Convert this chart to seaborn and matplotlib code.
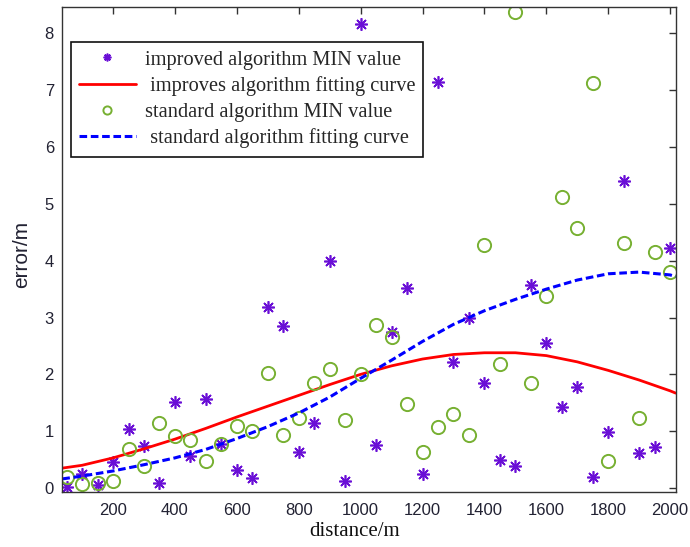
import matplotlib
matplotlib.use("Agg")
import matplotlib.pyplot as plt
import seaborn as sns
import pandas as pd
from matplotlib.markers import MarkerStyle

# ---------------- data ----------------
distance = [50, 100, 150, 200, 250, 300, 350, 400, 450, 500,
            550, 600, 650, 700, 750, 800, 850, 900, 950, 1000,
            1050, 1100, 1150, 1200, 1250, 1300, 1350, 1400, 1450, 1500,
            1550, 1600, 1650, 1700, 1750, 1800, 1850, 1900, 1950, 2000]

improved_min = [0.02, 0.25, 0.05, 0.46, 1.04, 0.74, 0.08, 1.52, 0.57, 1.57,
                0.77, 0.31, 0.17, 3.18, 2.85, 0.64, 1.14, 4.00, 0.12, 8.17,
                0.75, 2.75, 3.52, 0.25, 7.15, 2.21, 3.00, 1.85, 0.50, 0.38,
                3.57, 2.55, 1.43, 1.78, 0.20, 0.98, 5.41, 0.61, 0.73, 4.22]

standard_min = [0.19, 0.07, 0.09, 0.12, 0.69, 0.39, 1.14, 0.92, 0.84, 0.47,
                0.77, 1.10, 1.00, 2.02, 0.94, 1.24, 1.84, 2.09, 1.20, 2.00,
                2.86, 2.66, 1.48, 0.64, 1.08, 1.31, 0.93, 4.28, 2.18, 8.37,
                1.85, 3.38, 5.13, 4.58, 7.12, 0.48, 4.32, 1.23, 4.15, 3.80]

curve_x = [36, 100, 200, 300, 400, 500, 600, 700, 800, 900, 1000,
           1100, 1200, 1300, 1400, 1500, 1600, 1700, 1800, 1900, 2000, 2018]
improved_fit = [0.35, 0.40, 0.53, 0.69, 0.86, 1.05, 1.25, 1.44, 1.63, 1.82, 2.00,
                2.15, 2.27, 2.35, 2.38, 2.38, 2.33, 2.22, 2.07, 1.90, 1.71, 1.67]
standard_fit = [0.16, 0.21, 0.30, 0.41, 0.53, 0.68, 0.87, 1.08, 1.32, 1.60, 1.93,
                2.25, 2.58, 2.88, 3.12, 3.32, 3.50, 3.66, 3.77, 3.80, 3.75, 3.72]

labels = ["improved algorithm MIN value",
          " improves algorithm fitting curve",
          "standard algorithm MIN value",
          " standard algorithm fitting curve"]
x_label = "distance/m"
y_label = "error/m"

pts = pd.DataFrame({"distance": distance, "improved": improved_min,
                    "standard": standard_min})
fit = pd.DataFrame({"distance": curve_x, "improved": improved_fit,
                    "standard": standard_fit})

# ---------------- style ----------------
sns.set_theme(style="white")
plt.rcParams["font.family"] = ["Liberation Sans", "DejaVu Sans"]

purple = "#6a0fd6"
green = "#77b032"
serif = ["Liberation Serif", "DejaVu Serif"]

fig = plt.figure(figsize=(6.9, 5.47), dpi=100)
ax = fig.add_axes([62.3 / 690, 1 - 491.7 / 547, 613.4 / 690, 484.4 / 547])

asterisk = MarkerStyle((8, 2, 0))

sns.lineplot(data=pts, x="distance", y="improved", ax=ax, linestyle="none",
             marker=asterisk, markersize=9, markeredgewidth=1.2,
             markeredgecolor=purple, color=purple, label=labels[0])
sns.lineplot(data=fit, x="distance", y="improved", ax=ax, color="#ff0000",
             linewidth=2.0, label=labels[1])
sns.lineplot(data=pts, x="distance", y="standard", ax=ax, linestyle="none",
             marker="o", markersize=9.5, markerfacecolor="none",
             markeredgewidth=1.4, markeredgecolor=green, color=green,
             label=labels[2])
sns.lineplot(data=fit, x="distance", y="standard", ax=ax, color="#0000ff",
             linewidth=2.2, linestyle=(0, (2.5, 1.2)), label=labels[3])

ax.set_xlim(36, 2018)
ax.set_ylim(-0.065, 8.46)
ax.set_xticks(range(200, 2001, 200))
ax.set_yticks(range(0, 9))

for s in ax.spines.values():
    s.set_color("#333333")
    s.set_linewidth(1.0)

ax.tick_params(axis="both", which="both", direction="in", length=5, width=1,
               color="#333333", top=True, right=True, labelsize=12,
               labelcolor="#222233")
ax.tick_params(axis="x", pad=8)
ax.tick_params(axis="y", pad=6)

ax.set_xlabel(x_label, family=serif, fontsize=15, color="#111111")
ax.xaxis.set_label_coords(0.477, -0.063, transform=ax.transAxes)
ax.xaxis.label.set_va("top")
ax.set_ylabel(y_label, fontsize=15, color="#222233")
ax.yaxis.set_label_coords(-0.067, 0.49, transform=ax.transAxes)
ax.yaxis.label.set_va("center")

leg = ax.legend(loc="upper left", bbox_to_anchor=(0.0136, 0.928),
                borderaxespad=0, frameon=True, fancybox=False,
                prop={"family": serif, "size": 14.7},
                handlelength=2.8, handletextpad=0.42, labelspacing=0.32,
                borderpad=0.4, markerscale=0.62)
leg.get_frame().set_edgecolor("#111111")
leg.get_frame().set_linewidth(1.2)
leg.get_frame().set_alpha(1)

fig.savefig("out.png", dpi=100)
